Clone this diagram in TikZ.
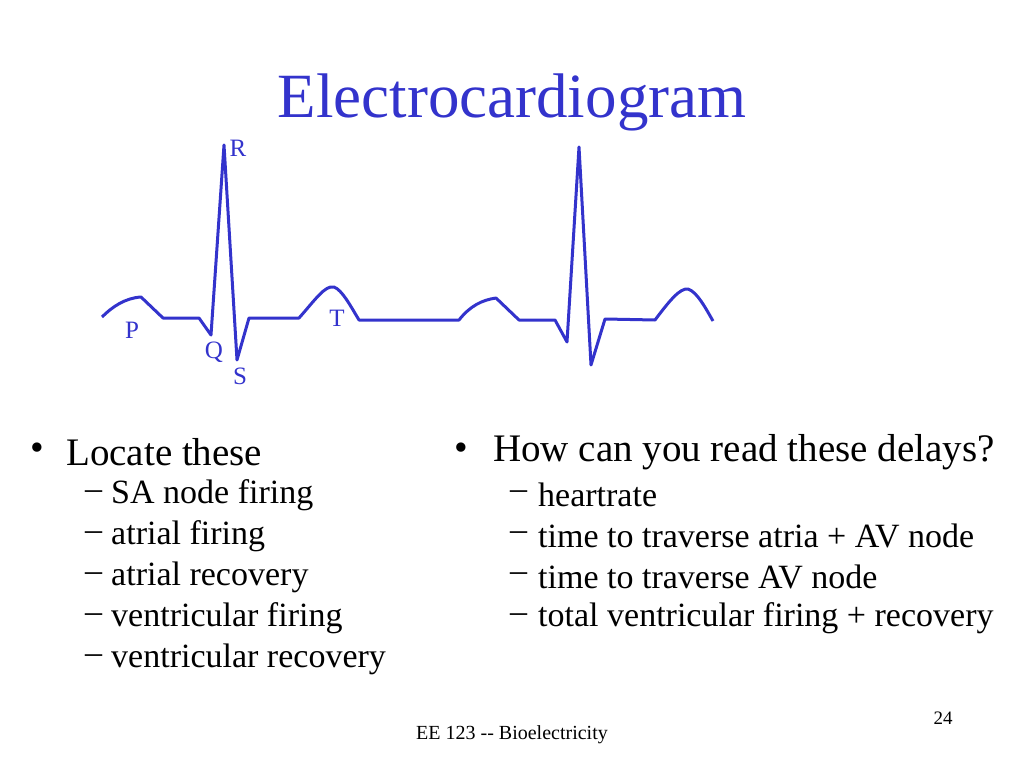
\documentclass[tikz,border=0pt]{standalone}
\usepackage{fontspec}
\setmainfont{Liberation Serif}
\definecolor{ecg}{RGB}{51,51,204}
\begin{document}
\begin{tikzpicture}[x=1pt,y=-1pt,
  lbl/.style={text=ecg,font=\fontsize{25}{28}\selectfont,inner sep=0pt},
  main/.style={anchor=west,inner sep=0pt,font=\fontsize{39}{42}\selectfont},
  sub/.style={anchor=west,inner sep=0pt,font=\fontsize{34}{38}\selectfont}]
\useasboundingbox (0,0) rectangle (1024,768);
\node[text=ecg,font=\fontsize{63}{66}\selectfont,inner sep=0pt] (title) at (512,102) {Electrocardiogram};
\draw[ecg,line width=3pt,line join=round]
 (102,317) .. controls (112,307) and (125,298) .. (141,297) -- (163,318) -- (199,318) -- (211,335)
 -- (224,145) -- (237,360) -- (249,318) -- (299,318)
 .. controls (315,300) and (325,285) .. (334,287) .. controls (342,290) and (350,305) .. (359,320)
 -- (459,320) .. controls (470,306) and (482,300) .. (496,298) -- (519,320) -- (555,320) -- (567,342)
 -- (579,147) -- (591,365) -- (605,319) -- (655,320)
 .. controls (670,300) and (680,288) .. (688,289) .. controls (697,292) and (705,307) .. (713,321);
\node[lbl] (R) at (238,148) {R};
\node[lbl] (P) at (132,330) {P};
\node[lbl] (Q) at (214,352) {Q};
\node[lbl] (S) at (240,376) {S};
\node[lbl] (T) at (337,318) {T};
\node[main] (bb1) at (30,452) {\textbullet};
\node[main] (b1) at (66,452) {Locate these};
\foreach \t/\y/\n in {SA node firing/495/1, atrial firing/536/2, atrial recovery/577/3, ventricular firing/618/4, ventricular recovery/659/5}{
  \node[sub] (dl\n) at (85,\y) {–};
  \node[sub] (l\n) at (111,\y) {\t};
}
\node[main] (bb2) at (454,452) {\textbullet};
\node[main] (b2) at (493,452) {How can you read these delays?};
\foreach \t/\y/\n in {heartrate/495/1, time to traverse atria + AV node/536/2, time to traverse AV node/577/3, total ventricular firing + recovery/618/4}{
  \node[sub] (dr\n) at (510,\y) {–};
  \node[sub] (r\n) at (538,\y) {\t};
}
\node[inner sep=0pt,font=\fontsize{19}{22}\selectfont] (pg) at (943,718) {24};
\node[inner sep=0pt,font=\fontsize{20}{22}\selectfont] (ft) at (512,735) {EE 123 -{}- Bioelectricity};
\end{tikzpicture}
\end{document}
